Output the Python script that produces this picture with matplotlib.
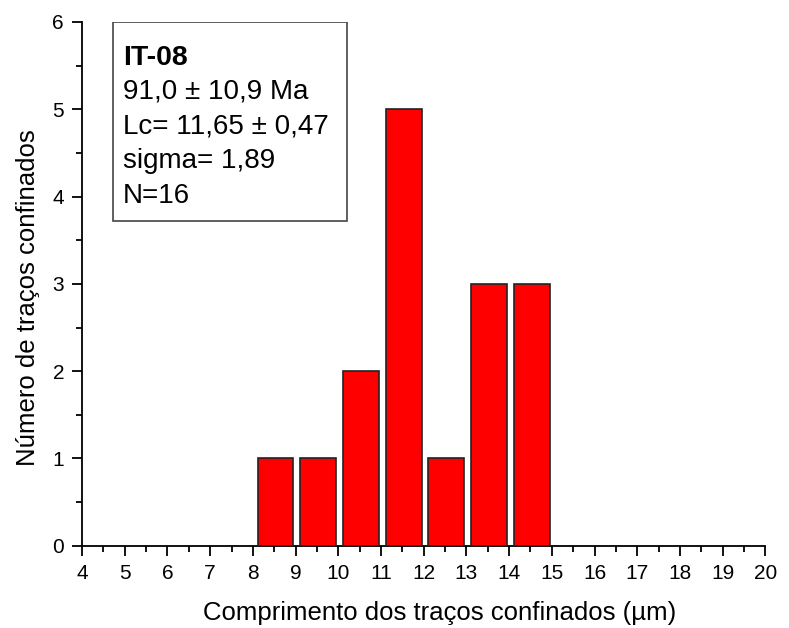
import matplotlib.pyplot as plt
from matplotlib.patches import Rectangle
from matplotlib.ticker import MultipleLocator

plt.rcParams['font.family'] = ['Liberation Sans', 'DejaVu Sans']

# track length classes (bin centres, um) and counts
bin_centres = [8.5, 9.5, 10.5, 11.5, 12.5, 13.5, 14.5]
counts = [1, 1, 2, 5, 1, 3, 3]

sample = 'IT-08'
info_lines = ['91,0 ± 10,9 Ma', 'Lc= 11,65 ± 0,47', 'sigma= 1,89', 'N=16']

fig = plt.figure(figsize=(7.89, 6.28), dpi=100)
ax = fig.add_axes([0.104, 0.131, 0.866, 0.834])

ax.bar([c + 0.03 for c in bin_centres], counts, width=0.84, color='#ff0000',
       edgecolor='#222222', linewidth=1.2, zorder=3)

ax.set_xlim(4, 20)
ax.set_ylim(0, 6)
ax.xaxis.set_major_locator(MultipleLocator(1))
ax.xaxis.set_minor_locator(MultipleLocator(0.5))
ax.yaxis.set_major_locator(MultipleLocator(1))
ax.yaxis.set_minor_locator(MultipleLocator(0.5))
ax.tick_params(which='minor', direction='out', length=4, width=1.3)
ax.tick_params(which='major', direction='out', length=7, width=1.3, pad=6)
for lbl in ax.get_xticklabels() + ax.get_yticklabels():
    lbl.set_fontsize(15)
for side in ['top', 'right']:
    ax.spines[side].set_visible(False)
for side in ['left', 'bottom']:
    ax.spines[side].set_linewidth(1.3)

ax.set_xlabel('Comprimento dos traços confinados (µm)', fontsize=18.5)
ax.set_ylabel('Número de traços confinados', fontsize=18.5)
ax.xaxis.set_label_coords(0.524, -0.105)
ax.yaxis.set_label_coords(-0.062, 0.473)

# info box
ax.add_patch(Rectangle((0.045, 0.62), 0.343, 0.38, transform=ax.transAxes,
                       fill=False, edgecolor='#444444', linewidth=1.2, zorder=4))
ax.text(0.060, 0.918, sample, transform=ax.transAxes, fontsize=20.5,
        fontweight='bold', va='baseline')
for i, line in enumerate(info_lines):
    ax.text(0.060, 0.853 - i * 0.066, line, transform=ax.transAxes,
            fontsize=20, va='baseline')

fig.savefig('out.png', dpi=100)
